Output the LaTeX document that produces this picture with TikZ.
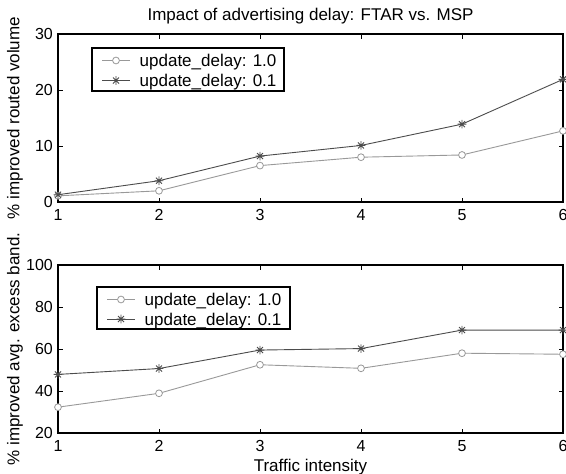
\documentclass[tikz,border=0pt]{standalone}
\usepackage{fontspec}
\setmainfont{Liberation Sans}
\definecolor{lightc}{gray}{0.6}
\definecolor{darkc}{gray}{0.3}
\tikzset{
  axisline/.style={line width=1.3pt, black},
  tickline/.style={line width=0.8pt, black},
  ticklab/.style={font=\fontsize{16}{18}\selectfont, inner sep=0pt},
  lab/.style={font=\fontsize{17}{19}\selectfont, inner sep=0pt},
  lightline/.style={lightc, line width=0.9pt},
  darkline/.style={darkc, line width=0.9pt},
  circmark/.pic={\draw[lightc, line width=0.8pt, fill=white] (0,0) circle[radius=3.4pt];},
  starmark/.pic={\draw[darkc, line width=0.9pt] (-4.3pt,0)--(4.3pt,0) (0,-4.3pt)--(0,4.3pt) (-3pt,-3pt)--(3pt,3pt) (-3pt,3pt)--(3pt,-3pt);},
  legbox/.style={draw=black, line width=1.2pt, fill=white}
}
\begin{document}
\begin{tikzpicture}[x=1pt,y=-1pt]
\useasboundingbox (0,0) rectangle (566,474);
\fill[white] (0,0) rectangle (566,474);

% title
\node[lab, anchor=base] (title) at (310.5,20) {Impact of advertising delay: FTAR vs. MSP};

% ---------- top plot ----------
\begin{scope}[shift={(-43,202)}, x=101pt, y=5.6pt]
  \draw[axisline] (1,0) rectangle (6,30);
  \foreach \i in {2,...,5} {
    \draw[tickline] (\i,30) -- ++(0,-4.5pt);
    \draw[tickline] (\i,0) -- ++(0,4.5pt);
  }
  \foreach \v in {10,20} {
    \draw[tickline] (1,\v) -- ++(4.5pt,0);
    \draw[tickline] (6,\v) -- ++(-4.5pt,0);
  }
  \foreach \i in {1,...,6}
    \node[ticklab, anchor=base] (tx\i) at ([yshift=-18.5pt]\i,0) {\i};
  \foreach \v in {0,10,20,30}
    \node[ticklab, anchor=base east] (ty\v) at ([xshift=-5pt,yshift=-5.8pt]1,\v) {\v};
  % data
  \coordinate (a1) at (1,1.1);  \coordinate (a2) at (2,2.0);
  \coordinate (a3) at (3,6.5);  \coordinate (a4) at (4,8.0);
  \coordinate (a5) at (5,8.4);  \coordinate (a6) at (6,12.7);
  \coordinate (b1) at (1,1.3);  \coordinate (b2) at (2,3.8);
  \coordinate (b3) at (3,8.2);  \coordinate (b4) at (4,10.1);
  \coordinate (b5) at (5,13.9); \coordinate (b6) at (6,21.9);
  \draw[lightline] (a1)--(a2)--(a3)--(a4)--(a5)--(a6);
  \foreach \p in {a1,a2,a3,a4,a5,a6} \pic at (\p) {circmark};
  \draw[darkline] (b1)--(b2)--(b3)--(b4)--(b5)--(b6);
  \foreach \p in {b1,b2,b3,b4,b5,b6} \pic at (\p) {starmark};
\end{scope}

% y label top
\node[lab, rotate=90, anchor=base] (ylabA) at (19.5,118) {\% improved routed volume};

% legend top
\draw[legbox] (92,48) rectangle (284,91);
\coordinate (lA1s) at (102,60.5); \coordinate (lA1e) at (130,60.5);
\coordinate (lA2s) at (102,80.5); \coordinate (lA2e) at (130,80.5);
\draw[lightline] (lA1s) -- (lA1e);
\pic at (116,60.5) {circmark};
\draw[darkline] (lA2s) -- (lA2e);
\pic at (116,80.5) {starmark};
\node[lab, anchor=base west] (legA1) at (139.5,66.5) {update\_delay: 1.0};
\node[lab, anchor=base west] (legA2) at (139.5,86.5) {update\_delay: 0.1};

% ---------- bottom plot ----------
\begin{scope}[shift={(-43,475)}, x=101pt, y=2.1pt]
  \draw[axisline] (1,20) rectangle (6,100);
  \foreach \i in {2,...,5} {
    \draw[tickline] (\i,100) -- ++(0,-4.5pt);
    \draw[tickline] (\i,20) -- ++(0,4.5pt);
  }
  \foreach \v in {40,60,80} {
    \draw[tickline] (1,\v) -- ++(4.5pt,0);
    \draw[tickline] (6,\v) -- ++(-4.5pt,0);
  }
  \foreach \i in {1,...,6}
    \node[ticklab, anchor=base] (bx\i) at ([yshift=-18.5pt]\i,20) {\i};
  \foreach \v in {20,40,60,80,100}
    \node[ticklab, anchor=base east] (by\v) at ([xshift=-5pt,yshift=-5.8pt]1,\v) {\v};
  \coordinate (c1) at (1,32.3); \coordinate (c2) at (2,38.9);
  \coordinate (c3) at (3,52.5); \coordinate (c4) at (4,50.8);
  \coordinate (c5) at (5,58.0); \coordinate (c6) at (6,57.5);
  \coordinate (d1) at (1,47.9); \coordinate (d2) at (2,50.7);
  \coordinate (d3) at (3,59.5); \coordinate (d4) at (4,60.2);
  \coordinate (d5) at (5,69.0); \coordinate (d6) at (6,69.0);
  \draw[lightline] (c1)--(c2)--(c3)--(c4)--(c5)--(c6);
  \foreach \p in {c1,c2,c3,c4,c5,c6} \pic at (\p) {circmark};
  \draw[darkline] (d1)--(d2)--(d3)--(d4)--(d5)--(d6);
  \foreach \p in {d1,d2,d3,d4,d5,d6} \pic at (\p) {starmark};
\end{scope}

% y label bottom, x label
\node[lab, rotate=90, anchor=base] (ylabB) at (19.5,349) {\% improved avg. excess band.};
\node[lab, anchor=base] (xlab) at (310.5,471) {Traffic intensity};

% legend bottom
\draw[legbox] (97,287) rectangle (290,329);
\coordinate (lB1s) at (107,299.5); \coordinate (lB1e) at (135,299.5);
\coordinate (lB2s) at (107,319); \coordinate (lB2e) at (135,319);
\draw[lightline] (lB1s) -- (lB1e);
\pic at (121,299.5) {circmark};
\draw[darkline] (lB2s) -- (lB2e);
\pic at (121,319) {starmark};
\node[lab, anchor=base west] (legB1) at (144.5,305.5) {update\_delay: 1.0};
\node[lab, anchor=base west] (legB2) at (144.5,325) {update\_delay: 0.1};
\end{tikzpicture}
\end{document}
